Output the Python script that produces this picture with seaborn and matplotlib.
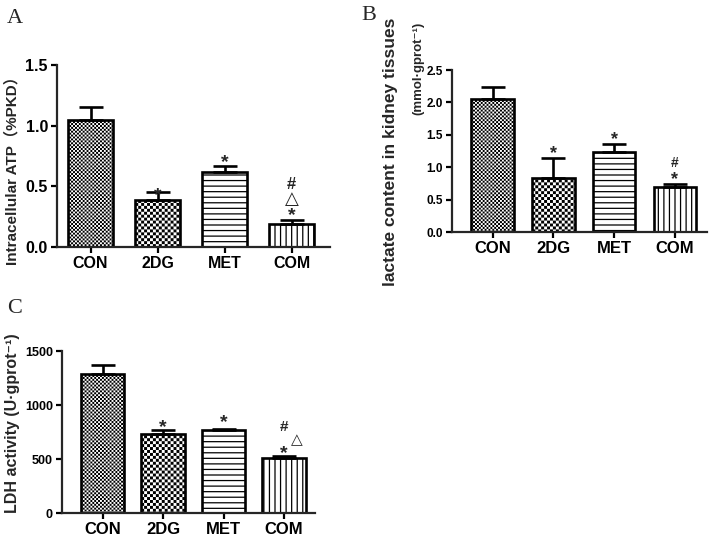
import numpy as np
import matplotlib
matplotlib.use("Agg")
import matplotlib.pyplot as plt
import matplotlib.hatch as mhatch
from matplotlib.path import Path
import seaborn as sns

# ---------------- data ----------------
groups = ["CON", "2DG", "MET", "COM"]

atp_mean = [1.05, 0.39, 0.62, 0.19]
atp_err = [0.10, 0.06, 0.05, 0.03]
atp_ticks = [0.0, 0.5, 1.0, 1.5]

lact_mean = [2.05, 0.84, 1.24, 0.69]
lact_err = [0.18, 0.30, 0.12, 0.05]
lact_ticks = [0.0, 0.5, 1.0, 1.5, 2.0, 2.5]

ldh_mean = [1290, 730, 765, 505]
ldh_err = [80, 35, 15, 20]
ldh_ticks = [0, 500, 1000, 1500]

# significance marks: (group index, symbol)
atp_marks = [(1, "*"), (2, "*"), (3, "*"), (3, "△"), (3, "#")]
lact_marks = [(1, "*"), (2, "*"), (3, "*"), (3, "#")]
ldh_marks = [(1, "*"), (2, "*"), (3, "*"), (3, "△"), (3, "#")]

# ---------------- style ----------------
sns.set_style("ticks")
plt.rcParams["font.family"] = ["Liberation Sans", "DejaVu Sans", "Noto Sans CJK SC"]
plt.rcParams["font.weight"] = "bold"
plt.rcParams["hatch.linewidth"] = 0.9
plt.rcParams["hatch.color"] = "black"

W, H = 709, 538
DPI = 100
HATCH_LW_PX = plt.rcParams["hatch.linewidth"] * DPI / 72.0


class CheckerHatch(mhatch.HatchPatternBase):
    """Checkerboard hatch, selected by the letter 'o'."""

    def __init__(self, hatch, density):
        c = hatch.count("o")
        self.n = 2 * ((c * 17 + 1) // 2) if c else 0
        self.num_vertices = (self.n * self.n // 2) * 5 if self.n else 0

    def set_vertices_and_codes(self, vertices, codes):
        n = self.n
        step = 1.0 / n
        ins = (HATCH_LW_PX / 2.0) / DPI
        k = 0
        for i in range(n):
            for j in range(n):
                if (i + j) % 2 == 0:
                    x0, x1 = i * step + ins, (i + 1) * step - ins
                    y0, y1 = j * step + ins, (j + 1) * step - ins
                    vertices[k:k + 5] = [(x0, y0), (x1, y0), (x1, y1), (x0, y1), (x0, y0)]
                    codes[k:k + 5] = [Path.MOVETO, Path.LINETO, Path.LINETO,
                                      Path.LINETO, Path.CLOSEPOLY]
                    k += 5


mhatch._hatch_types[:] = [CheckerHatch if t is mhatch.SmallCircles else t
                          for t in mhatch._hatch_types]

hatches = ["ooo", "oo", "---", "|||"]

fig = plt.figure(figsize=(W / DPI, H / DPI), dpi=DPI)


def rect(l, t, r, b):
    return [l / W, 1 - b / H, (r - l) / W, (b - t) / H]


def panel(box, mean, err, ticks, fmt, xlim, width, marks, offsets,
          ytick_size, xtick_size, mark_sizes):
    ax = fig.add_axes(rect(*box))
    sns.barplot(x=groups, y=mean, ax=ax, color="white", edgecolor="black",
                linewidth=1.9, width=width, errorbar=None, saturation=1)
    for p, h in zip(ax.patches, hatches):
        p.set_hatch(h)
    x = np.arange(len(groups))
    ax.errorbar(x, mean, yerr=[np.zeros(len(mean)), err], fmt="none",
                ecolor="black", elinewidth=1.9, capsize=8.5, capthick=1.9,
                zorder=4)
    ax.set_ylim(ticks[0], ticks[-1])
    ax.set_yticks(ticks)
    ax.set_yticklabels([fmt.format(t) for t in ticks], fontsize=ytick_size,
                       fontweight="bold")
    ax.set_xticks(x)
    ax.set_xticklabels(groups, fontsize=xtick_size, fontweight="bold")
    ax.set_xlim(*xlim)
    ax.set_xlabel("")
    ax.set_ylabel("")
    sns.despine(ax=ax)
    for s in ["left", "bottom"]:
        ax.spines[s].set_linewidth(1.6)
    ax.tick_params(axis="both", direction="out", length=4.5, width=1.6,
                   pad=2, colors="black")
    for (gi, sym), (dx, dy) in zip(marks, offsets):
        fam = ["DejaVu Sans"] if sym == "△" else ["Liberation Sans", "DejaVu Sans"]
        ax.annotate(sym, xy=(gi, mean[gi] + err[gi]), xytext=(dx, dy),
                    textcoords="offset points", ha="center", va="center",
                    fontsize=mark_sizes[sym], fontweight="bold", family=fam,
                    zorder=5)
    return ax


# Panel A
panel((57, 65, 330, 247), atp_mean, atp_err, atp_ticks, "{:.1f}",
      (-0.5, 3.57), 0.67, atp_marks,
      [(0, -2.5), (0, 2.5), (0, 3.5), (0, 15), (0, 26)],
      11.5, 11.5, {"*": 14, "△": 13, "#": 12})

# Panel B
panel((452, 70, 707, 232), lact_mean, lact_err, lact_ticks, "{:.1f}",
      (-0.67, 3.53), 0.70, lact_marks,
      [(0, 3), (0, 3), (0, 3.5), (0, 15)],
      8.5, 12, {"*": 13, "△": 12, "#": 10})

# Panel C
panel((62, 351, 315, 513), ldh_mean, ldh_err, ldh_ticks, "{:d}",
      (-0.67, 3.51), 0.72, ldh_marks,
      [(0, 2), (0, 4.5), (0, 2), (9, 12), (0, 21)],
      9, 12, {"*": 14, "△": 11, "#": 11})

# ---------------- axis titles ----------------
def ftext(xp, yp, s, **kw):
    fig.text(xp / W, 1 - yp / H, s, **kw)


ftext(12, 167, "Intracellular ATP（%PKD）", rotation=90, ha="center",
      va="center", fontsize=11, fontweight="bold")
ftext(391, 18, "lactate content in kidney tissues", rotation=90, ha="center",
      va="top", fontsize=12.5, fontweight="bold")
ftext(418, 22, "(mmol·gprot⁻¹)", rotation=90, ha="center", va="top",
      fontsize=9.5, fontweight="bold")
ftext(13, 423, "LDH activity (U·gprot⁻¹)", rotation=90, ha="center",
      va="center", fontsize=11.5, fontweight="bold")

# ---------------- panel letters ----------------
for letter, xp, yp in [("A", 7, 23), ("B", 361, 20), ("C", 7, 313)]:
    ftext(xp, yp, letter, ha="left", va="baseline", fontsize=16,
          fontweight="normal", family=["Liberation Serif"])

fig.savefig("out.png", dpi=DPI)
